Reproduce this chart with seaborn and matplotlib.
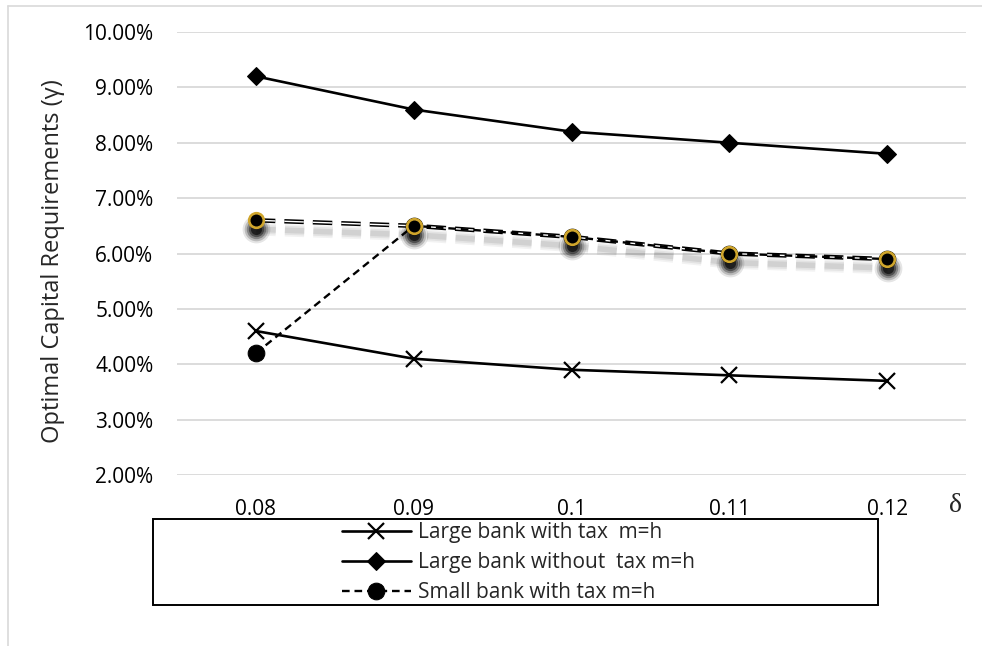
import matplotlib
matplotlib.use("Agg")
import matplotlib.pyplot as plt
import matplotlib.patheffects as pe
from matplotlib.patches import Rectangle
from matplotlib.lines import Line2D
from matplotlib.ticker import FuncFormatter
from matplotlib.transforms import offset_copy
import seaborn as sns

# delta values on the x axis
delta = ["0.08", "0.09", "0.1", "0.11", "0.12"]

# optimal capital requirements (%)
large_with_tax = [4.6, 4.1, 3.9, 3.8, 3.7]
large_without_tax = [9.2, 8.6, 8.2, 8.0, 7.8]
small_with_tax = [4.2, 6.5, 6.3, 6.0, 5.9]
small_with_tax_upper = [6.6, 6.5, 6.3, 6.0, 5.9]

labels = ["Large bank with tax  m=h", "Large bank without  tax m=h", "Small bank with tax m=h"]

sns.set_theme(style="white")
plt.rcParams["font.family"] = ["Open Sans", "DejaVu Sans"]
plt.rcParams["lines.scale_dashes"] = False

W, H = 982, 646
fig = plt.figure(figsize=(W / 100, H / 100), dpi=100)
ax = fig.add_axes([177 / W, 1 - 475 / H, (966 - 177) / W, (475 - 32) / H])

sns.lineplot(x=delta, y=large_with_tax, ax=ax, color="black", lw=1.9,
             marker="x", markersize=11, markeredgewidth=1.6, markeredgecolor="black",
             label=labels[0], sort=False)
sns.lineplot(x=delta, y=large_without_tax, ax=ax, color="black", lw=1.9,
             marker="D", markersize=9, markeredgecolor="black", markerfacecolor="black",
             label=labels[1], sort=False)

# soft drop shadow under the upper dashed series, shifted down a few pixels
shadow_tr = offset_copy(ax.transData, fig=fig, x=0.5, y=-9, units="dots")
for lw, a in [(9, 0.05), (6.5, 0.06), (4, 0.08)]:
    sns.lineplot(x=delta, y=small_with_tax_upper, ax=ax, color="black", lw=lw, alpha=a,
                 linestyle=(0, (14, 6.5)), transform=shadow_tr, legend=False, sort=False,
                 zorder=1.5)
for ms, a in [(20, 0.10), (17, 0.18), (14, 0.28), (11, 0.4), (8, 0.6)]:
    sns.lineplot(x=delta, y=small_with_tax_upper, ax=ax, color="black", linestyle="none",
                 marker="o", markersize=ms, markeredgewidth=0, alpha=a,
                 transform=shadow_tr, legend=False, sort=False, zorder=1.6)

# upper series line: outlined dashes
sns.lineplot(x=delta, y=small_with_tax_upper, ax=ax, color="white", lw=1.0,
             linestyle=(0, (14, 6.5)), legend=False, sort=False, zorder=3,
             path_effects=[pe.Stroke(linewidth=3.2, foreground="black"), pe.Normal()])

sns.lineplot(x=delta, y=small_with_tax, ax=ax, color="black", lw=1.7,
             linestyle=(0, (5.5, 3.5)), marker="o", markersize=12,
             markeredgecolor="black", markerfacecolor="black", label=labels[2], sort=False,
             zorder=3.05)

# gold-edged markers of the upper series on top
sns.lineplot(x=delta, y=small_with_tax_upper, ax=ax, color="black", linestyle="none",
             marker="o", markersize=10.5, markerfacecolor="black", markeredgecolor="#cfa52c",
             markeredgewidth=1.9, legend=False, sort=False, zorder=3.1)

ax.set_xlim(-0.5, 4.5)
ax.set_ylim(2, 10)
ax.set_yticks([2, 3, 4, 5, 6, 7, 8, 9, 10])
ax.yaxis.set_major_formatter(FuncFormatter(lambda v, p: f"{v:.2f}%"))
ax.grid(axis="y", color="#d9d9d9", lw=1.3)
ax.grid(axis="x", visible=False)
ax.set_axisbelow(True)
for s in ax.spines.values():
    s.set_visible(False)
ax.tick_params(axis="both", length=0, labelsize=15, colors="black")
ax.tick_params(axis="y", pad=17)
ax.tick_params(axis="x", pad=17)
ax.set_xlabel("")
ax.set_ylabel("Optimal Capital Requirements (γ)", fontsize=17)
ax.yaxis.set_label_coords(-0.142, 0.483)

fig.text(955 / W, 1 - 506 / H, "δ", fontsize=20, family=["Liberation Serif", "DejaVu Serif"],
         ha="center", va="center")

handles, labs = ax.get_legend_handles_labels()
ax.get_legend().remove()
fig.legend(handles, labs, loc="upper left", bbox_to_anchor=(342 / W, 1 - 522 / H),
           frameon=False, fontsize=15, handlelength=3.3, handletextpad=0.35,
           labelspacing=0.43, borderpad=0, borderaxespad=0)

# legend frame
fig.add_artist(Rectangle((153 / W, 1 - 605 / H), (878 - 153) / W, (605 - 519) / H,
                         transform=fig.transFigure, fill=False, edgecolor="black", lw=1.4))
# chart area border
fig.add_artist(Line2D([8 / W, 1], [1 - 6 / H, 1 - 6 / H], transform=fig.transFigure,
                      color="#d9d9d9", lw=1.2))
fig.add_artist(Line2D([8 / W, 8 / W], [0, 1 - 6 / H], transform=fig.transFigure,
                      color="#d9d9d9", lw=1.2))

fig.savefig("out.png", dpi=100)
